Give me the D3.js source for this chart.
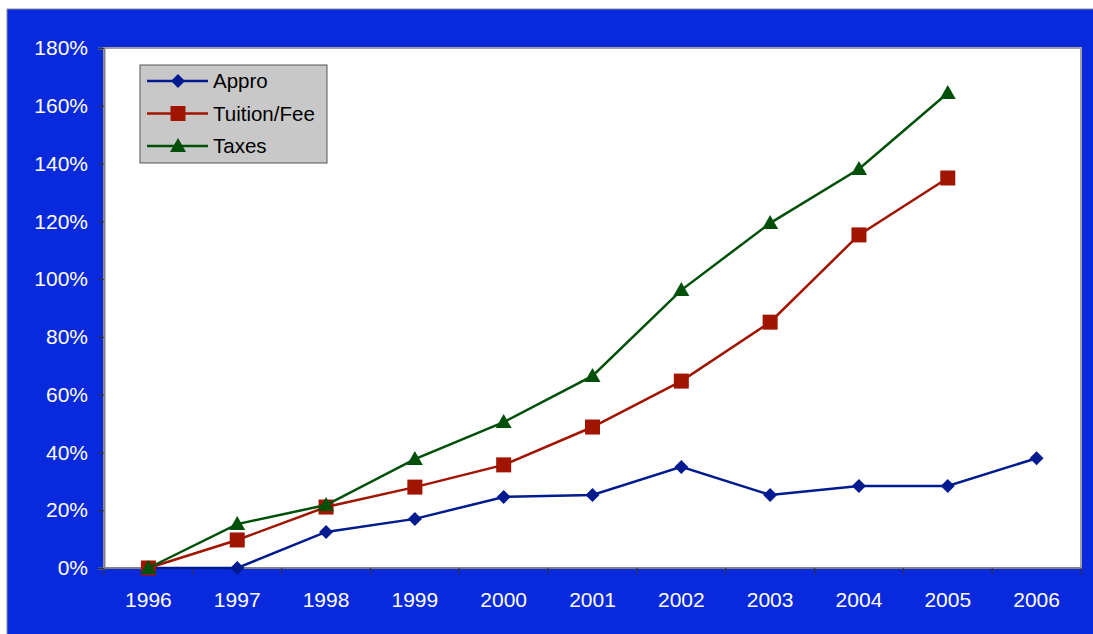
<!DOCTYPE html>
<html>
<head>
<meta charset="utf-8">
<script src="https://cdn.jsdelivr.net/npm/d3@7"></script>
<style>
  html, body { margin: 0; padding: 0; background: #fff; }
  svg { display: block; font-family: "Liberation Sans", Arial, Helvetica, sans-serif; }
</style>
</head>
<body>
<svg id="chart" width="1093" height="634"></svg>
<script>
// Values (percent growth since 1996)
const years = ["1996", "1997", "1998", "1999", "2000", "2001", "2002", "2003", "2004", "2005", "2006"];
const appro = [0, 0, 12.5, 17, 24.6, 25.3, 35, 25.3, 28.4, 28.4, 38];
const tuition = [0, 9.7, 21.1, 28, 35.7, 48.8, 64.7, 85.1, 115.3, 135, null];
const taxes = [0, 15.2, 21.8, 37.7, 50.5, 66.5, 96.2, 119.4, 138.1, 164.4, null];
const yTicks = [0, 20, 40, 60, 80, 100, 120, 140, 160, 180];

const series = [
  { name: "Appro", values: appro, color: "#001a8f", marker: "diamond" },
  { name: "Tuition/Fee", values: tuition, color: "#a01400", marker: "square" },
  { name: "Taxes", values: taxes, color: "#00500a", marker: "triangle" }
];

const svg = d3.select("#chart");

// Blue background frame
svg.append("rect").attr("x", 7).attr("y", 9).attr("width", 1090).attr("height", 630)
  .attr("fill", "#0829dc").attr("stroke", "#8a8a9a").attr("stroke-width", 1);

const plot = { left: 104, top: 48, right: 1081, bottom: 568 };

const x = d3.scaleBand().domain(years).range([plot.left, plot.right]);
const y = d3.scaleLinear().domain([0, 180]).range([plot.bottom, plot.top]);

// Plot area with a gray edge
svg.append("rect")
  .attr("x", plot.left).attr("y", plot.top)
  .attr("width", plot.right - plot.left).attr("height", plot.bottom - plot.top)
  .attr("fill", "#fff").attr("stroke", "#a0a0a0").attr("stroke-width", 2);

// Y axis
const yAxis = svg.append("g")
  .attr("transform", `translate(${plot.left},0)`)
  .call(d3.axisLeft(y).tickValues(yTicks).tickFormat(d => d + "%").tickSize(6).tickPadding(10));
yAxis.select(".domain").attr("stroke", "#808080").attr("stroke-width", 2);
yAxis.selectAll(".tick line").attr("stroke", "#333");
yAxis.selectAll("text").attr("fill", "#fff").attr("font-size", 21)
  .attr("font-family", "Liberation Sans, Arial, sans-serif");

// X axis: ticks at category boundaries, labels centred
const xAxis = svg.append("g").attr("transform", `translate(0,${plot.bottom})`);
xAxis.append("line").attr("x1", plot.left).attr("x2", plot.right)
  .attr("stroke", "#808080").attr("stroke-width", 2);
const bounds = years.map(yr => x(yr)).concat([plot.right]);
xAxis.selectAll(".bt").data(bounds).enter().append("line")
  .attr("x1", d => d).attr("x2", d => d).attr("y1", 0).attr("y2", 7)
  .attr("stroke", "#333");
xAxis.selectAll(".lbl").data(years).enter().append("text")
  .attr("x", d => x(d) + x.bandwidth() / 2).attr("y", 39)
  .attr("text-anchor", "middle").attr("fill", "#fff").attr("font-size", 21)
  .text(d => d);

// Markers
function drawMarker(g, type, color) {
  if (type === "diamond") {
    g.append("path").attr("d", "M0,-7L7,0L0,7L-7,0Z").attr("fill", color);
  } else if (type === "square") {
    g.append("rect").attr("x", -7.5).attr("y", -7.5).attr("width", 15).attr("height", 15)
      .attr("fill", color);
  } else {
    g.append("path").attr("d", "M0,-8L8,6L-8,6Z").attr("fill", color);
  }
}

const cx = i => x(years[i]) + x.bandwidth() / 2;

series.forEach(s => {
  const line = d3.line()
    .defined(d => d != null)
    .x((d, i) => cx(i))
    .y(d => y(d));
  svg.append("path").datum(s.values)
    .attr("d", line).attr("fill", "none")
    .attr("stroke", s.color).attr("stroke-width", 2.5);
  s.values.forEach((v, i) => {
    if (v == null) return;
    const g = svg.append("g").attr("transform", `translate(${cx(i)},${y(v)})`);
    drawMarker(g, s.marker, s.color);
  });
});

// Legend
const legend = svg.append("g").attr("transform", "translate(140,65)");
legend.append("rect").attr("width", 187).attr("height", 98)
  .attr("fill", "#c8c8c8").attr("stroke", "#555").attr("stroke-width", 1);
series.forEach((s, i) => {
  const row = legend.append("g").attr("transform", `translate(0,${16 + i * 32.5})`);
  row.append("line").attr("x1", 7).attr("x2", 68).attr("stroke", s.color).attr("stroke-width", 2.5);
  const m = row.append("g").attr("transform", "translate(38,0)");
  drawMarker(m, s.marker, s.color);
  row.append("text").attr("x", 73).attr("y", 7).attr("font-size", 20.5)
    .attr("fill", "#000").text(s.name);
});
</script>
</body>
</html>
